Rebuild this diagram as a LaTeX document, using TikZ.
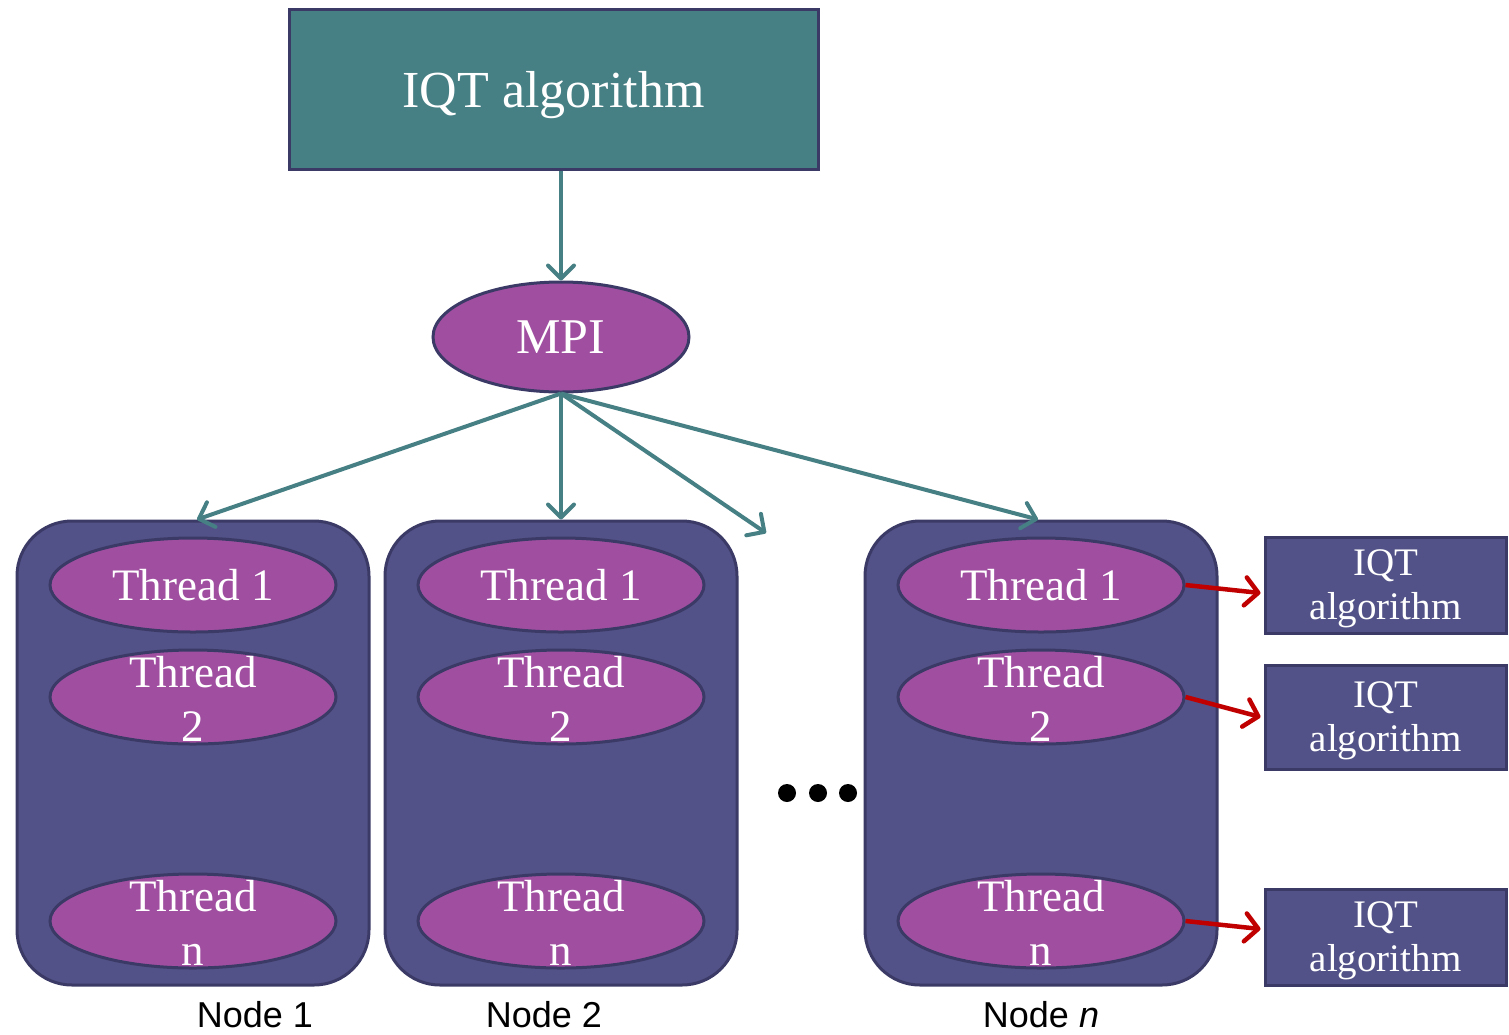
\documentclass[tikz,border=0pt]{standalone}
\usepackage{fontspec}
\setmainfont{Liberation Serif}
\newfontfamily\labelfont{Liberation Sans}
\usetikzlibrary{shapes.geometric,arrows.meta,calc}
\definecolor{tealc}{HTML}{467F84}
\definecolor{edgec}{HTML}{3B3A66}
\definecolor{purp}{HTML}{A04FA0}
\definecolor{slate}{HTML}{525288}
\definecolor{redc}{HTML}{C00000}
\begin{document}
\begin{tikzpicture}[x=1pt,y=-1pt,
  topbox/.style={draw=edgec,line width=3pt,fill=tealc,minimum width=529pt,minimum height=160pt,inner sep=0pt,text=white,text depth=0pt,font=\fontsize{52}{60}\selectfont},
  mpinode/.style={ellipse,draw=edgec,line width=3pt,fill=purp,minimum width=256pt,minimum height=110pt,inner sep=0pt,text=white,font=\fontsize{50}{58}\selectfont},
  hostbox/.style={draw=edgec,line width=3pt,fill=slate,rounded corners=55pt,minimum width=352pt,minimum height=464pt,inner sep=0pt},
  thread/.style={ellipse,draw=edgec,line width=3pt,fill=purp,minimum width=286pt,minimum height=94pt,inner sep=0pt},
  threadtext/.style={text=white,align=center,inner sep=0pt,font=\fontsize{45}{54}\selectfont},
  algbox/.style={draw=edgec,line width=3pt,fill=slate,minimum width=241pt,inner sep=0pt},
  algtext/.style={text=white,align=center,inner sep=0pt,yshift=-4pt,font=\fontsize{39}{44}\selectfont},
  hostlabel/.style={anchor=base,inner sep=0pt,text=black,font=\labelfont\fontsize{36}{40}\selectfont},
  tarrow/.style={draw=tealc,line width=4pt,-{Straight Barb[length=13pt,width=26pt,round]}},
  rarrow/.style={draw=redc,line width=4.5pt,-{Straight Barb[length=13pt,width=28pt,round]}},
  dot/.style={circle,fill=black,minimum size=18pt,inner sep=0pt}
]
\useasboundingbox (0,0) rectangle (1509,1034);

\node[topbox] (top) at (553.5,89) {IQT algorithm};
\node[mpinode] (mpi) at (561,337) {MPI};

% host boxes
\node[hostbox] (h1) at (193,753) {};
\node[hostbox] (h2) at (561,753) {};
\node[hostbox] (hn) at (1041,753) {};

% threads
\node[thread,label={[threadtext]center:Thread 1}] (a1) at (193,585) {};
\node[thread,label={[threadtext,yshift=-2pt]center:Thread\\2}] (a2) at (193,697) {};
\node[thread,label={[threadtext,yshift=-2pt]center:Thread\\n}] (a3) at (193,921) {};
\node[thread,label={[threadtext]center:Thread 1}] (b1) at (561,585) {};
\node[thread,label={[threadtext,yshift=-2pt]center:Thread\\2}] (b2) at (561,697) {};
\node[thread,label={[threadtext,yshift=-2pt]center:Thread\\n}] (b3) at (561,921) {};
\node[thread,label={[threadtext]center:Thread 1}] (c1) at (1041,585) {};
\node[thread,label={[threadtext,yshift=-2pt]center:Thread\\2}] (c2) at (1041,697) {};
\node[thread,label={[threadtext,yshift=-2pt]center:Thread\\n}] (c3) at (1041,921) {};

% algorithm boxes
\node[algbox,minimum height=96pt,label={[algtext]center:IQT\\algorithm}] (g1) at (1385.5,585) {};
\node[algbox,minimum height=104pt,label={[algtext]center:IQT\\algorithm}] (g2) at (1385.5,717) {};
\node[algbox,minimum height=96pt,label={[algtext]center:IQT\\algorithm}] (g3) at (1385.5,937) {};

% labels
\node[hostlabel] (l1) at (255,1027) {Node 1};
\node[hostlabel] (l2) at (544,1027) {Node 2};
\node[hostlabel] (ln) at (1041,1027) {Node \textit{n}};

% dots
\node[dot] (d1) at (787,793) {};
\node[dot] (d2) at (818,793) {};
\node[dot] (d3) at (848,793) {};

% connectors
\coordinate (free) at (766,533);
\draw[tarrow] (mpi.north |- top.south) -- (mpi.north);
\draw[tarrow] (mpi.south) -- ($(h1.north)+(4,0)$);
\draw[tarrow] (mpi.south) -- (h2.north);
\draw[tarrow] (mpi.south) -- (free);
\draw[tarrow] (mpi.south) -- ($(hn.north)+(-3,0)$);

\draw[rarrow] (c1.east) -- ($(g1.west)+(-3,8)$);
\draw[rarrow] (c2.east) -- ($(g2.west)+(-3,0)$);
\draw[rarrow] (c3.east) -- ($(g3.west)+(-3,-8)$);
\end{tikzpicture}
\end{document}
